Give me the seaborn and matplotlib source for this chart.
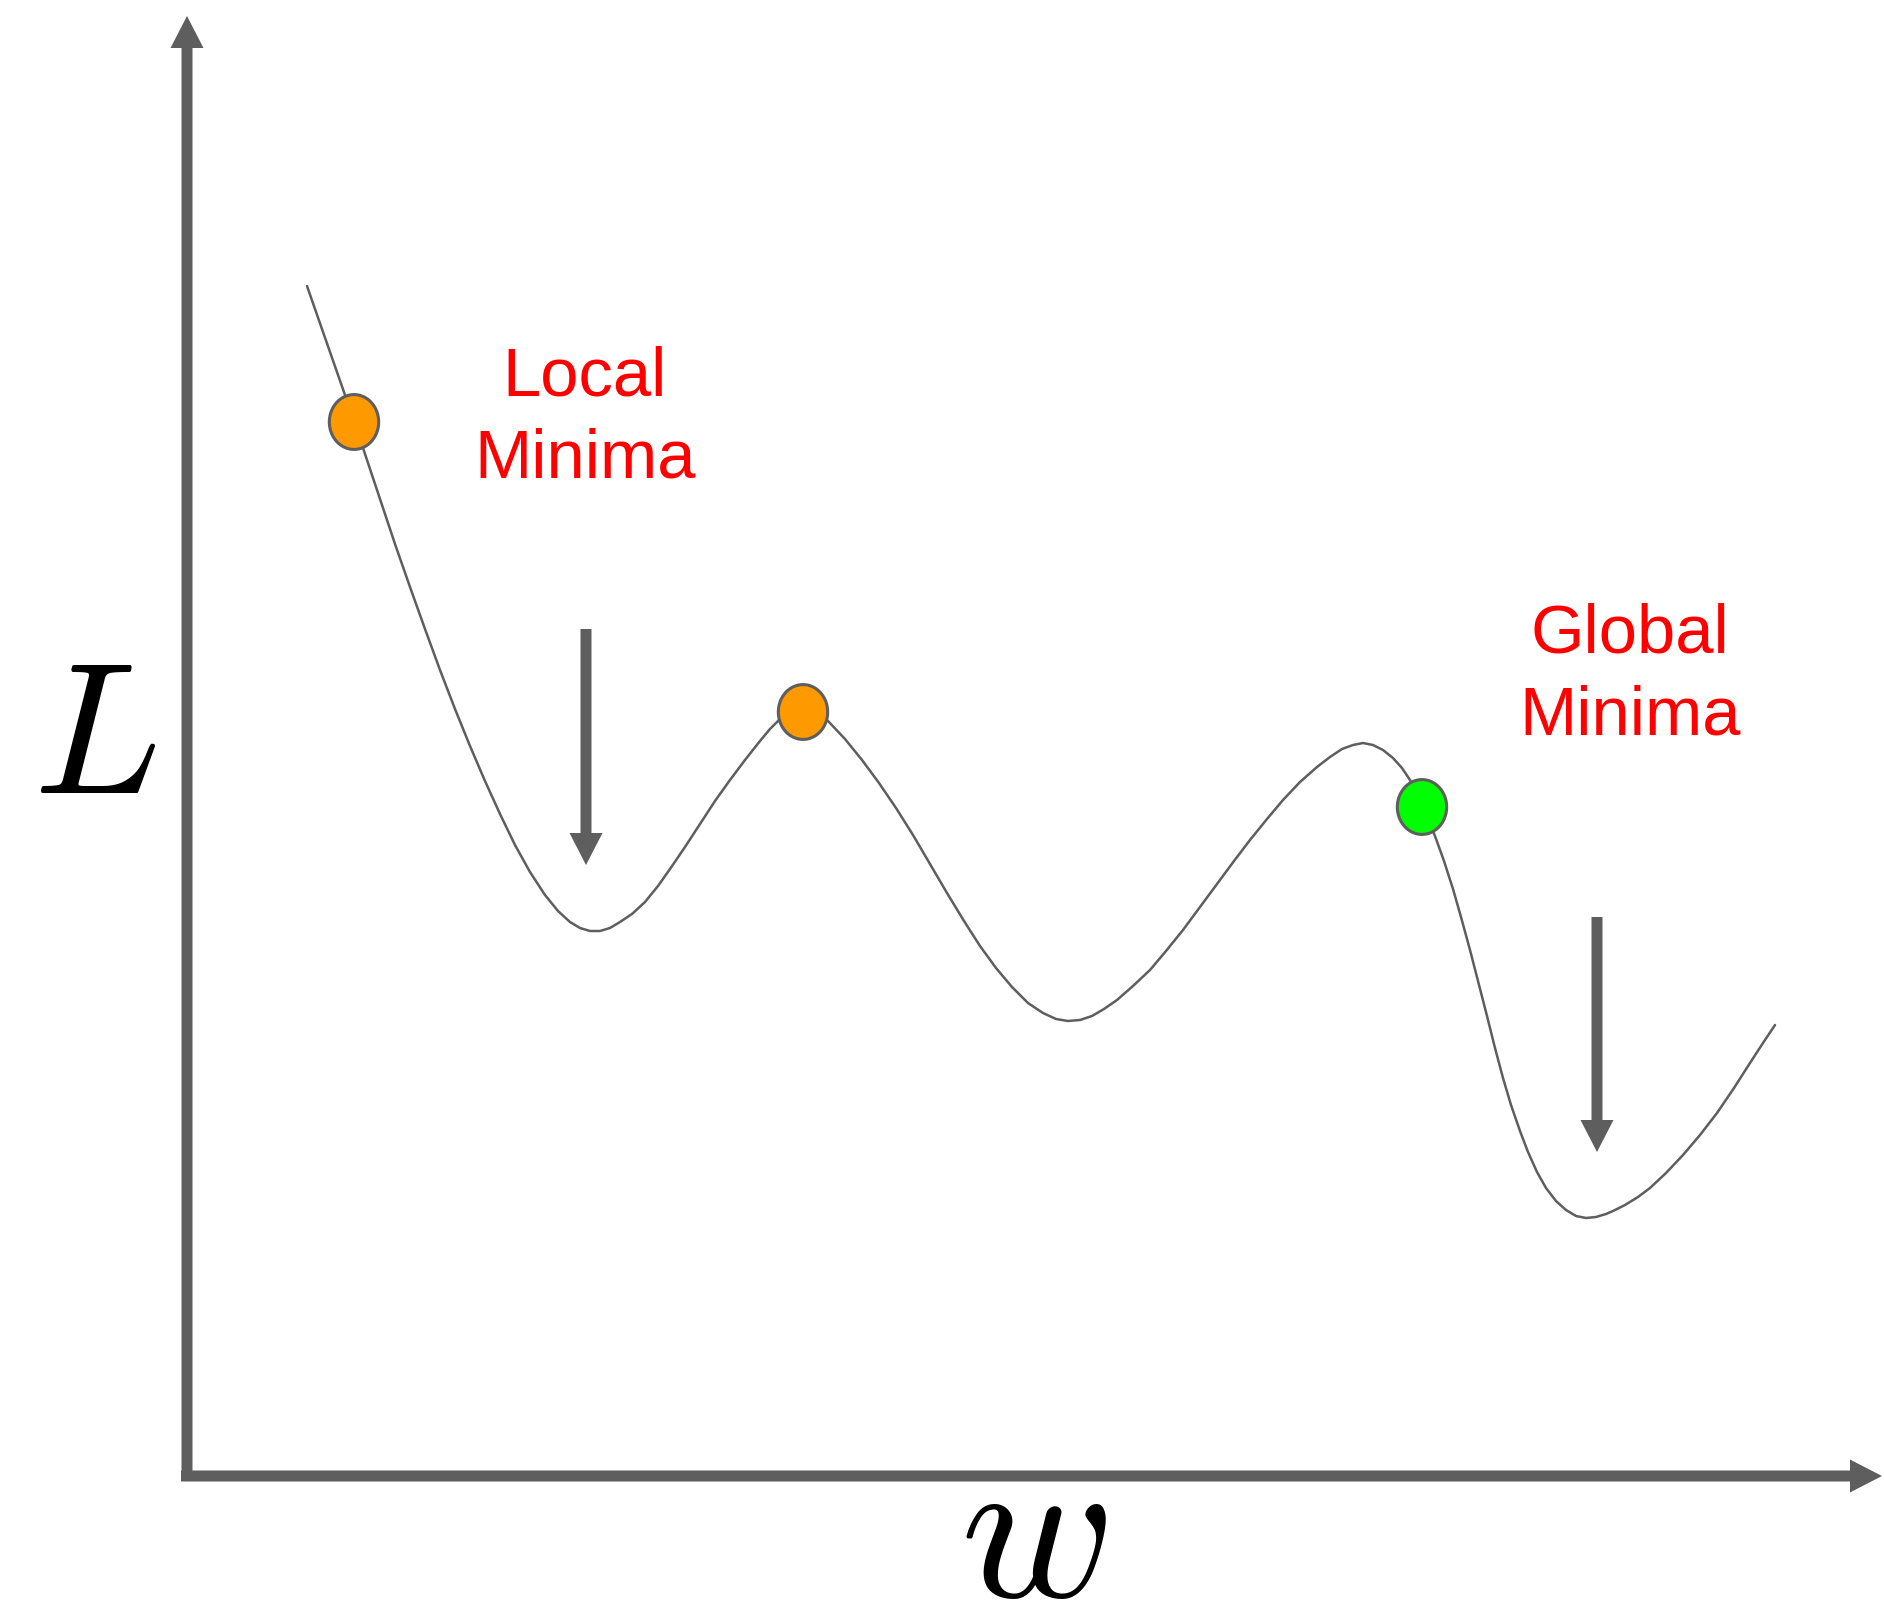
import matplotlib

matplotlib.use('Agg')
import matplotlib.pyplot as plt
import numpy as np
import pandas as pd
import seaborn as sns

# loss curve (w along the axis, L up the axis,
# both measured from the origin of the drawn axes)
w_vals = [120, 143, 158, 167, 178, 193, 208, 223, 238, 253, 268, 283, 298,
          313, 328, 343, 358, 371, 383, 393, 403, 413, 423, 433, 445, 458,
          471, 483, 498, 513, 528, 543, 558, 573, 583, 593, 603, 613, 621,
          631, 641, 658, 675, 692, 709, 726, 743, 760, 777, 793, 809, 825,
          841, 856, 869, 881, 893, 905, 917, 930, 946, 963, 979, 996, 1013,
          1030, 1047, 1063, 1080, 1096, 1113, 1130, 1143, 1155, 1166, 1176,
          1186, 1196, 1206, 1215, 1223, 1230, 1235, 1241, 1248, 1257, 1266,
          1274, 1283, 1291, 1300, 1308, 1316, 1324, 1333, 1341, 1350, 1359,
          1369, 1379, 1389, 1399, 1409, 1419, 1426, 1438, 1451, 1463, 1479,
          1496, 1513, 1530, 1547, 1563, 1576, 1588]
L_vals = [1190, 1124, 1081, 1055, 1022, 977, 932, 889, 847, 806, 767, 730,
          695, 662, 631, 604, 581, 565, 554, 548, 545, 545, 548, 554, 562,
          574, 590, 607, 629, 652, 675, 696, 716, 735, 747, 757, 763, 766,
          766, 763, 755, 737, 716, 693, 668, 641, 612, 583, 555, 530, 508,
          489, 473, 463, 457, 455, 456, 460, 467, 476, 490, 506, 525, 546,
          569, 592, 615, 636, 657, 676, 694, 709, 719, 727, 731, 733, 731,
          726, 718, 708, 696, 684, 671, 657, 640, 615, 587, 559, 526, 495,
          460, 428, 398, 371, 345, 324, 304, 288, 275, 266, 260, 258, 259,
          262, 265, 271, 279, 288, 303, 321, 341, 363, 388, 413, 433, 451]

# the three balls sitting on the curve
ball_w = [167, 616, 1235]
ball_L = [1054, 764, 669]
ball_kind = ['start', 'stuck', 'goal']
ball_colors = {'start': '#ff9900', 'stuck': '#ff9900', 'goal': '#00ff00'}

labels = ['Local\nMinima', 'Global\nMinima']

GRAY = '#5e5e5e'

sns.set_theme(style='white')
plt.rcParams['font.family'] = ['Liberation Sans', 'DejaVu Sans']
plt.rcParams['mathtext.fontset'] = 'cm'

fig = plt.figure(figsize=(18.84, 16.19), dpi=100)
ax = fig.add_axes([0, 0, 1, 1])
ax.set_xlim(-187, 1697)
ax.set_ylim(-143, 1476)
ax.set_axis_off()

curve = pd.DataFrame({'w': w_vals, 'L': L_vals})
sns.lineplot(data=curve, x='w', y='L', sort=False, estimator=None,
             color=GRAY, linewidth=1.8, solid_joinstyle='round',
             ax=ax, zorder=2)

balls = pd.DataFrame({'w': ball_w, 'L': ball_L, 'kind': ball_kind})
t = np.linspace(0, 2 * np.pi, 60)
ellipse = list(zip(0.9 * np.cos(t), np.sin(t)))
sns.scatterplot(data=balls, x='w', y='L', hue='kind', palette=ball_colors,
                marker=ellipse, s=1560, edgecolor=GRAY, linewidth=2.2,
                legend=False, ax=ax, zorder=3)

# axes with arrow heads
arrow_kw = dict(width=11, head_width=33, head_length=32,
                length_includes_head=True, color=GRAY, lw=0)
ax.arrow(0, -5, 0, 1465, **arrow_kw)
ax.arrow(-6, 0, 1701, 0, **arrow_kw)

# arrows pointing down at the two minima
L_arr = np.array(L_vals)
w_arr = np.array(w_vals)
i_loc = int(np.argmin(L_arr[:30]))
i_glob = int(np.argmin(L_arr))
ax.arrow(w_arr[i_loc] - 4, L_arr[i_loc] + 302, 0, -236, **arrow_kw)
ax.arrow(w_arr[i_glob] + 11, L_arr[i_glob] + 301, 0, -235, **arrow_kw)

ax.text(w_arr[i_loc] - 5, 998, labels[0], color='#ff0000', fontsize=49.5,
        ha='center', va='baseline', linespacing=1.36)
ax.text(w_arr[i_glob] + 44, 742, labels[1], color='#ff0000', fontsize=49.5,
        ha='center', va='baseline', linespacing=1.36)

ax.text(-92, 683, '$L$', fontsize=135, color='black',
        ha='center', va='baseline')
ax.text(846, -121, '$w$', fontsize=151, color='black',
        ha='center', va='baseline')

fig.savefig('out.png', dpi=100)
